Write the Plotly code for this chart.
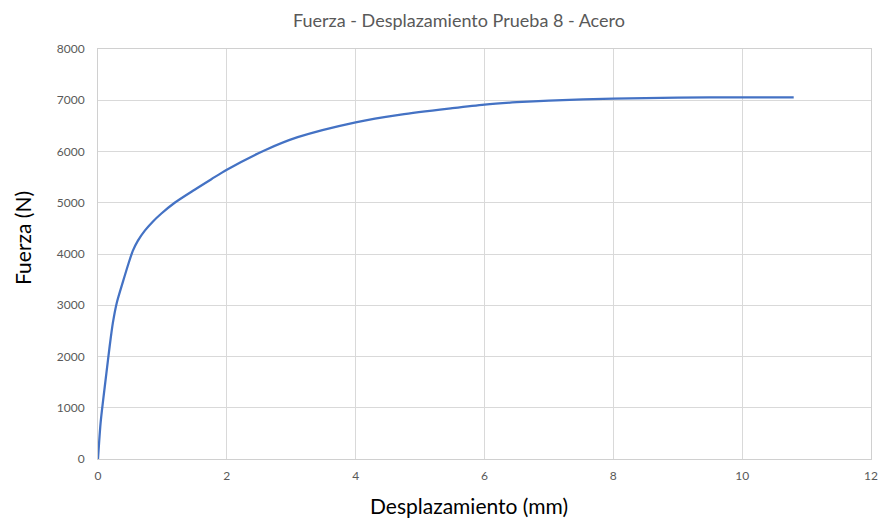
import plotly.graph_objects as go

desplazamiento_mm = [0, 0.04, 0.08, 0.13, 0.18, 0.23, 0.29, 0.39, 0.47, 0.54, 0.62, 0.73,
                     0.85, 0.98, 1.19, 1.50, 1.76, 2.0, 2.6, 3.1, 4.0, 4.7, 5.5, 6.0,
                     6.5, 7.0, 8.0, 9.0, 10.0, 10.8]
fuerza_n = [0, 700, 1150, 1670, 2190, 2650, 3040, 3470, 3800, 4060, 4260, 4460,
            4630, 4785, 5000, 5255, 5460, 5645, 6030, 6280, 6570, 6720, 6845, 6915,
            6962, 6995, 7030, 7050, 7058, 7058]

x_ticks = [0, 2, 4, 6, 8, 10, 12]
y_ticks = [0, 1000, 2000, 3000, 4000, 5000, 6000, 7000, 8000]

titulo = "Fuerza - Desplazamiento Prueba 8 - Acero"
titulo_x = "Desplazamiento (mm)"
titulo_y = "Fuerza (N)"

FONT = "Lato, 'Open Sans', sans-serif"
W, H = 880, 519

fig = go.Figure()
fig.add_trace(go.Scatter(
    x=desplazamiento_mm, y=fuerza_n, mode="lines",
    line=dict(color="#4472C4", width=2.25, shape="spline", smoothing=0.8),
    showlegend=False, hoverinfo="x+y",
))

fig.update_layout(
    width=W, height=H,
    margin=dict(l=98, r=9, t=49, b=60, autoexpand=False),
    paper_bgcolor="white", plot_bgcolor="white",
    font=dict(family=FONT, color="#595959"),
    annotations=[
        dict(text=titulo, xref="paper", yref="paper",
             x=(459 - 98) / (871 - 98), y=(459 - 20) / (459 - 49),
             xanchor="center", yanchor="middle", showarrow=False,
             font=dict(size=18, color="#595959", family=FONT)),
        dict(text=titulo_x, xref="paper", yref="paper",
             x=(469 - 98) / (871 - 98), y=(459 - 505) / (459 - 49),
             xanchor="center", yanchor="middle", showarrow=False,
             font=dict(size=21, color="#000000", family=FONT)),
        dict(text=titulo_y, xref="paper", yref="paper", textangle=-90,
             x=(22 - 98) / (871 - 98), y=(459 - 238) / (459 - 49),
             xanchor="center", yanchor="middle", showarrow=False,
             font=dict(size=21, color="#000000", family=FONT)),
    ],
)
fig.update_xaxes(
    range=[0, 12], tickvals=x_ticks, ticktext=[str(v) for v in x_ticks],
    showgrid=True, gridcolor="#d9d9d9", gridwidth=1,
    showline=True, linecolor="#d0d0d0", linewidth=1, mirror=True,
    zeroline=False, ticks="", ticklabelstandoff=6, automargin=False,
    tickfont=dict(size=12, color="#595959", family=FONT),
)
fig.update_yaxes(
    range=[0, 8000], tickvals=y_ticks, ticktext=[str(v) for v in y_ticks],
    showgrid=True, gridcolor="#d9d9d9", gridwidth=1,
    showline=True, linecolor="#d0d0d0", linewidth=1, mirror=True,
    zeroline=False, ticks="", ticklabelstandoff=10, automargin=False,
    tickfont=dict(size=12, color="#595959", family=FONT),
)

fig.write_html(
    "out.html",
    config={"displayModeBar": False},
    post_script="document.body.style.margin='0';document.body.style.overflow='hidden';",
)
